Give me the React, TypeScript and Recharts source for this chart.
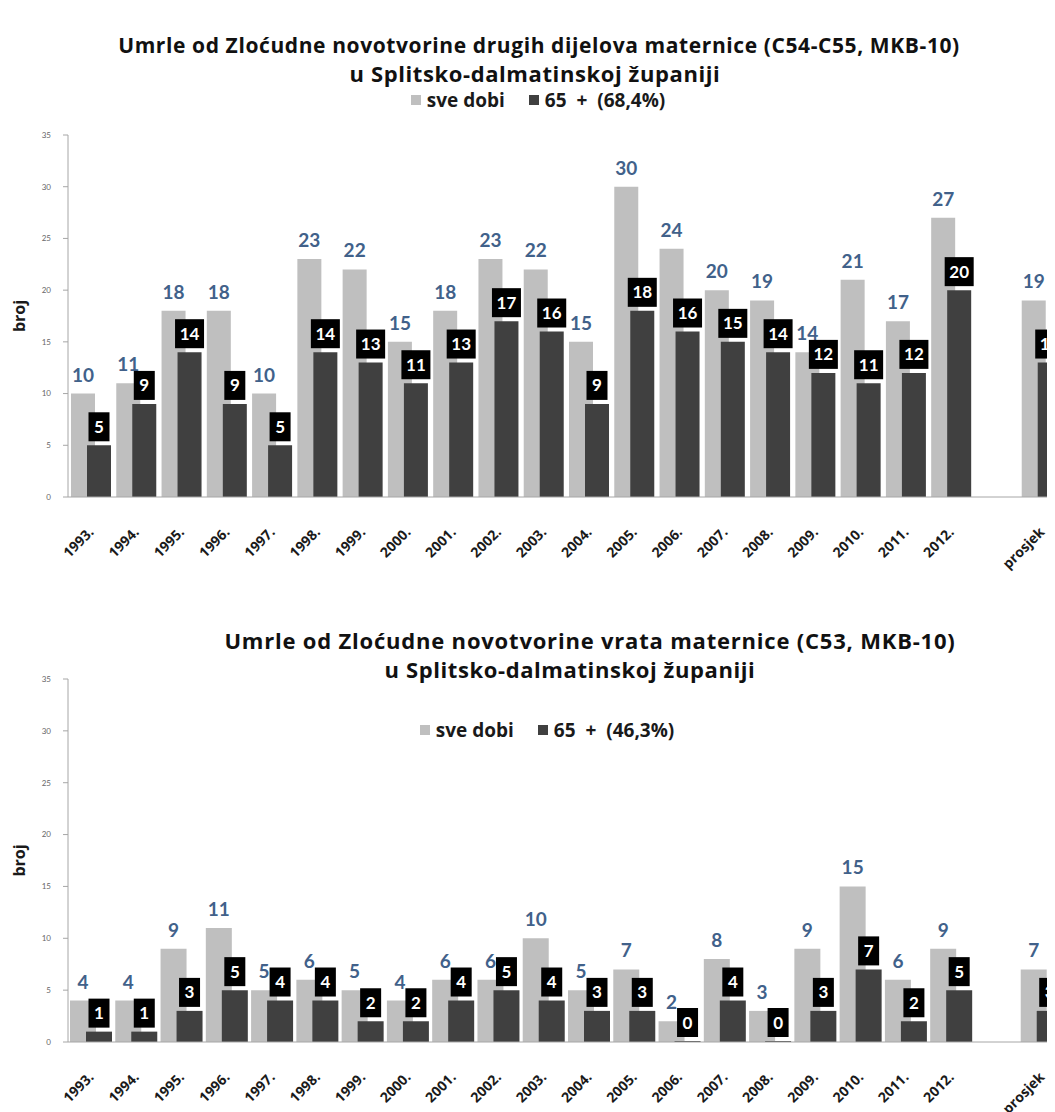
import React from 'react';
import { BarChart, Bar, XAxis, YAxis, LabelList, Label } from 'recharts';

const categories = ['1993.', '1994.', '1995.', '1996.', '1997.', '1998.', '1999.', '2000.', '2001.', '2002.', '2003.', '2004.', '2005.', '2006.', '2007.', '2008.', '2009.', '2010.', '2011.', '2012.', '', 'prosjek'];

const sveDobiTop = [10, 11, 18, 18, 10, 23, 22, 15, 18, 23, 22, 15, 30, 24, 20, 19, 14, 21, 17, 27, null, 19];
const stariji65Top = [5, 9, 14, 9, 5, 14, 13, 11, 13, 17, 16, 9, 18, 16, 15, 14, 12, 11, 12, 20, null, 13];

const sveDobiBottom = [4, 4, 9, 11, 5, 6, 5, 4, 6, 6, 10, 5, 7, 2, 8, 3, 9, 15, 6, 9, null, 7];
const stariji65Bottom = [1, 1, 3, 5, 4, 4, 2, 2, 4, 5, 4, 3, 3, 0, 4, 0, 3, 7, 2, 5, null, 3];

const yTicks = [0, 5, 10, 15, 20, 25, 30, 35];

const titleTop1 = 'Umrle od Zloćudne novotvorine drugih dijelova maternice (C54-C55, MKB-10)';
const titleTop2 = 'u Splitsko-dalmatinskoj županiji';
const titleBottom1 = 'Umrle od Zloćudne novotvorine vrata maternice (C53, MKB-10)';
const titleBottom2 = 'u Splitsko-dalmatinskoj županiji';
const legendAll = 'sve dobi';
const legendTop65 = '65 + (68,4%)';
const legendBottom65 = '65 + (46,3%)';

const FONT = 'Lato, "Open Sans", sans-serif';
const FONT_WIDE = '"Open Sans", Lato, sans-serif';
const LIGHT = '#bfbfbf';
const DARK = '#404040';
const LABEL_BLUE = '#41618a';

const dataTop = categories.map((c, i) => ({ cat: c, sve: sveDobiTop[i], s65: stariji65Top[i] }));
const dataBottom = categories.map((c, i) => ({ cat: c, sve: sveDobiBottom[i], s65: stariji65Bottom[i] }));

const XTick = (props: any) => {
  const { x, y, payload } = props;
  const ax = x + 4;
  const ay = y + 28;
  return (
    <text x={ax} y={ay} transform={`rotate(-45, ${ax}, ${ay})`} textAnchor="end" fontSize={14} fontWeight="bold" fill="#1a1a1a" fontFamily={FONT_WIDE}>
      {payload.value}
    </text>
  );
};

const LightLabel = (props: any) => {
  const { x, y, width, value } = props;
  if (value === null || value === undefined) return null;
  return (
    <text x={x + width / 2} y={y - 12} textAnchor="middle" fontSize={19} fontWeight="bold" fill={LABEL_BLUE} fontFamily={FONT}>
      {value}
    </text>
  );
};

const DarkLabel = (props: any) => {
  const { x, y, width, value } = props;
  if (value === null || value === undefined) return null;
  const s = String(value);
  const bw = s.length > 1 ? 29 : 21;
  const bh = 29;
  const cx = x + width / 2;
  const bottom = y - 4;
  return (
    <g>
      <rect x={cx - bw / 2} y={bottom - bh} width={bw} height={bh} fill="#000" />
      <text x={cx} y={bottom - bh / 2 + 6} textAnchor="middle" fontSize={17} fontWeight="bold" fill="#fff" fontFamily={FONT}>
        {s}
      </text>
    </g>
  );
};

const YLabel = (props: any) => {
  const { viewBox } = props;
  const cy = viewBox.y + viewBox.height / 2;
  const lx = 11;
  return (
    <text x={lx} y={cy} transform={`rotate(-90, ${lx}, ${cy})`} textAnchor="middle" dominantBaseline="central" fontSize={16} fontWeight="bold" fill="#1a1a1a" fontFamily={FONT_WIDE}>
      broj
    </text>
  );
};

const TitleBlock = ({ line1, line2, cx, top, size1, size2, spacing1, spacing2, shift2 }: any) => (
  <div style={{ position: 'absolute', left: cx - 600, top, width: 1200, lineHeight: '26px', textAlign: 'center', fontWeight: 'bold', color: '#111', fontFamily: FONT_WIDE, whiteSpace: 'nowrap' }}>
    <span style={{ fontSize: size1, letterSpacing: spacing1 }}>{line1}</span>
    <br />
    <span style={{ fontSize: size2, letterSpacing: spacing2, position: 'relative', left: shift2 }}>{line2}</span>
  </div>
);

const LegendRow = ({ label65, cx, cy }: { label65: string; cx: number; cy: number }) => (
  <div style={{ position: 'absolute', left: cx - 300, top: cy - 12, width: 600, height: 24, display: 'flex', justifyContent: 'center', alignItems: 'center', fontFamily: FONT_WIDE, fontWeight: 'bold', fontSize: 19, color: '#1a1a1a', whiteSpace: 'nowrap' }}>
    <span style={{ display: 'inline-block', width: 10, height: 10, background: LIGHT, marginRight: 6 }} />
    <span>{legendAll}</span>
    <span style={{ display: 'inline-block', width: 10, height: 10, background: DARK, marginLeft: 24, marginRight: 6 }} />
    <span style={{ wordSpacing: 5 }}>{label65}</span>
  </div>
);

const Chart = ({ data, height, marginTop, marginBottom, barSize, gap }: any) => (
  <BarChart width={1070} height={height} data={data} margin={{ top: marginTop, right: 14, bottom: marginBottom, left: 0 }} barGap={gap} barSize={barSize}>
    <XAxis dataKey="cat" interval={0} tickLine={false} axisLine={{ stroke: '#a6a6a6' }} height={60} tick={<XTick />} />
    <YAxis domain={[0, 35]} ticks={yTicks} width={60} axisLine={{ stroke: '#a6a6a6' }} tickLine={{ stroke: '#a6a6a6' }} tickSize={5} tickMargin={12} tick={{ fontSize: 8, fill: '#666', fontFamily: FONT }} allowDataOverflow>
      <Label content={<YLabel />} />
    </YAxis>
    <Bar dataKey="sve" fill={LIGHT} isAnimationActive={false}>
      <LabelList dataKey="sve" content={<LightLabel />} />
    </Bar>
    <Bar dataKey="s65" fill={DARK} minPointSize={1} isAnimationActive={false}>
      <LabelList dataKey="s65" content={<DarkLabel />} />
    </Bar>
  </BarChart>
);

export default function App() {
  return (
    <div style={{ position: 'relative', width: 1047, height: 1104, overflow: 'hidden', background: '#fff' }}>
      <div style={{ position: 'absolute', left: 0, top: 0 }}>
        <Chart data={dataTop} height={590} marginTop={127} marginBottom={41} barSize={24} gap={-8} />
      </div>
      <div style={{ position: 'absolute', left: 0, top: 590 }}>
        <Chart data={dataBottom} height={514} marginTop={81} marginBottom={10} barSize={26} gap={-10} />
      </div>
      <TitleBlock line1={titleTop1} line2={titleTop2} cx={531} top={24} size1={21} size2={22} spacing1={0.6} spacing2={0.6} shift2={-4} />
      <LegendRow label65={legendTop65} cx={530} cy={92} />
      <TitleBlock line1={titleBottom1} line2={titleBottom2} cx={582} top={619} size1={22} size2={22} spacing1={0.8} spacing2={0.6} shift2={-20} />
      <LegendRow label65={legendBottom65} cx={539} cy={722} />
    </div>
  );
}
